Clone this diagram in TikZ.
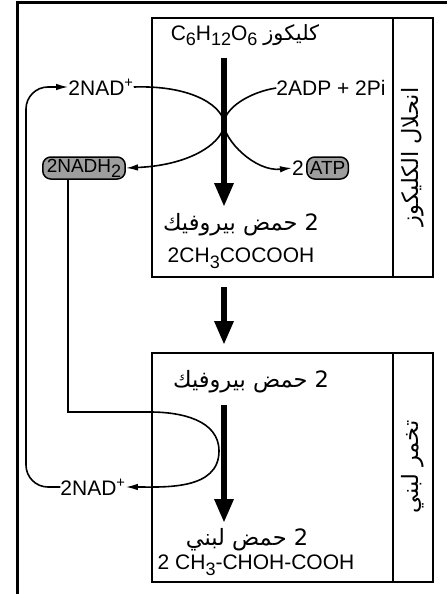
\documentclass[tikz,border=0pt]{standalone}
\usepackage{fontspec}
\setmainfont{Liberation Sans}
\newfontfamily\arabicfont[Script=Arabic]{DejaVu Sans}
\TeXXeTstate=1
\usetikzlibrary{arrows.meta,calc,positioning}
\newcommand\lo[1]{\raisebox{-0.5ex}{\fontsize{18}{18}\selectfont #1}}

\begin{document}
\begin{tikzpicture}[x=1pt,y=-1pt,
  lbl/.style={font=\fontsize{21}{24}\selectfont, inner sep=0pt},
  arlbl/.style={font=\fontsize{22.5}{26}\selectfont\arabicfont, inner sep=0pt},
  pill/.style={draw, fill=black!38, rounded corners=8pt, line width=1.5pt,
    font=\fontsize{19}{24}\selectfont, minimum height=22pt, inner xsep=4pt, inner ysep=0pt},
  stage/.style={line width=1.8pt},
  flow/.style={line width=1.6pt, -{Latex[length=12pt,width=6.5pt]}},
  main/.style={line width=6pt, -{Triangle[length=24pt,width=18pt]}}]
  \fill[white] (0,0) rectangle (447,594);
  \useasboundingbox (0,0) rectangle (447,594);

  % outer frame
  \draw[line width=3pt] (17,594) -- (17,3) -- (447,3);

  % the two stages
  \draw[stage] (152,18) rectangle (433,277);
  \draw[stage] (393,18) -- (393,277);
  \draw[stage] (152,353) rectangle (433,582);
  \draw[stage] (393,353) -- (393,582);
  \node[arlbl, rotate=90] (glyco) at (413,157) {\beginR انحلال الكليكوز\endR};
  \node[arlbl, rotate=90] (ferm) at (413,467) {\beginR تخمر لبني\endR};

  % glycolysis
  \node[lbl] (gluc) at (245,35) {C\lo{6}H\lo{12}O\lo{6} {\arabicfont\beginR كليكوز\endR}};
  \node[lbl] (nadtop) at (101,87) {2NAD\textsuperscript{+}};
  \node[lbl] (adp) at (331,88) {2ADP + 2Pi};
  \node[pill] (nadh) at (84,168) {2NADH\lo{2}};
  \node[lbl] (two) at (298,168) {2};
  \node[pill, inner xsep=3pt, right=2pt of two] (atp) {ATP};
  \node[arlbl] (pyr1) at (241,225) {\beginR 2 حمض بيروفيك\endR};
  \node[lbl] (pyr1f) at (241,258) {2CH\lo{3}COCOOH};
  \coordinate (g0) at (224,58);
  \coordinate (g1) at (224,207);
  \draw[main] (g0) -- (g1);
  \coordinate (x) at (224,124);
  \draw[flow] (nadtop.east) .. controls (195,85) and (224,108) .. (x)
    .. controls (224,140) and (195,165) .. (nadh.east);
  \draw[flow] (adp.west) .. controls (250,92) and (224,108) .. (x)
    .. controls (224,140) and (255,172) .. (two.west);

  % between the stages
  \coordinate (m0) at (224,287);
  \coordinate (m1) at (224,345);
  \draw[main] (m0) -- (m1);

  % lactic fermentation
  \node[arlbl] (pyr2) at (251,382) {\beginR 2 حمض بيروفيك\endR};
  \node[arlbl] (lac) at (247,540) {\beginR 2 حمض لبني\endR};
  \node[lbl] (lacf) at (256,565) {2 CH\lo{3}-CHOH-COOH};
  \node[lbl] (nadbot) at (93,487) {2NAD\textsuperscript{+}};
  \coordinate (f0) at (224,405);
  \coordinate (f1) at (224,523);
  \draw[main] (f0) -- (f1);
  \coordinate (dn) at (68,412);
  \draw[flow] (nadh.south -| dn) -- (dn) -- (150,412) to[out=0,in=90] (219,451)
    to[out=-90,in=0] (nadbot.east);

  % NAD+ goes back to glycolysis
  \coordinate (lft) at (26,300);
  \draw[flow, rounded corners=22pt] (nadbot.west) -| (lft) |- (nadtop.west);
\end{tikzpicture}
\end{document}
